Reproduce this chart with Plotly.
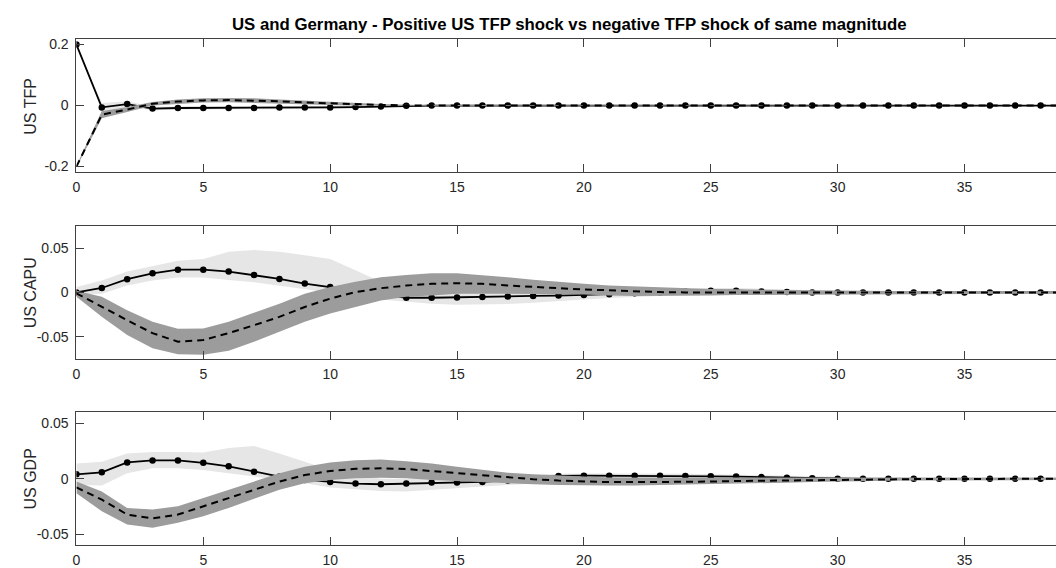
import plotly.graph_objects as go

# ---------------- data ----------------
horizon = [0, 1, 2, 3, 4, 5, 6, 7, 8, 9, 10, 11, 12, 13, 14, 15, 16, 17, 18, 19, 20,
           21, 22, 23, 24, 25, 26, 27, 28, 29, 30, 31, 32, 33, 34, 35, 36, 37, 38, 39, 40]
x_tick_vals = [0, 5, 10, 15, 20, 25, 30, 35]

panel_titles = ["US TFP", "US CAPU", "US GDP"]
chart_title = "US and Germany - Positive US TFP shock vs negative TFP shock of same magnitude"

# US TFP
tfp_pos = [0.200, -0.006, 0.005, -0.010, -0.008, -0.008, -0.008, -0.008, -0.006, -0.006, -0.006,
           -0.005, -0.003, -0.001, 0.0, 0.0, 0.0, 0.0, 0.0, 0.0, 0.0,
           0.0, 0.0, 0.0, 0.0, 0.0, 0.0, 0.0, 0.0, 0.0, 0.0,
           0.0, 0.0, 0.0, 0.0, 0.0, 0.0, 0.0, 0.0, 0.0, 0.0]
tfp_pos_hi = [0.203, 0.008, 0.014, -0.004, -0.003, -0.003, -0.003, -0.003, -0.001, -0.001, -0.001,
              0.000, 0.001, 0.002, 0.002, 0.0015, 0.0015, 0.0012, 0.001, 0.001, 0.001,
              0.001, 0.001, 0.001, 0.001, 0.001, 0.001, 0.001, 0.001, 0.001, 0.001,
              0.001, 0.001, 0.001, 0.001, 0.001, 0.001, 0.001, 0.001, 0.001, 0.001]
tfp_pos_lo = [0.197, -0.018, -0.004, -0.016, -0.013, -0.013, -0.013, -0.013, -0.011, -0.011, -0.011,
              -0.010, -0.007, -0.004, -0.002, -0.0015, -0.0015, -0.0012, -0.001, -0.001, -0.001,
              -0.001, -0.001, -0.001, -0.001, -0.001, -0.001, -0.001, -0.001, -0.001, -0.001,
              -0.001, -0.001, -0.001, -0.001, -0.001, -0.001, -0.001, -0.001, -0.001, -0.001]
tfp_neg = [-0.200, -0.030, -0.013, 0.006, 0.013, 0.017, 0.018, 0.017, 0.014, 0.010, 0.007,
           0.004, 0.002, 0.0005, 0.0, 0.0, 0.0, 0.0, 0.0, 0.0, 0.0,
           0.0, 0.0, 0.0, 0.0, 0.0, 0.0, 0.0, 0.0, 0.0, 0.0,
           0.0, 0.0, 0.0, 0.0, 0.0, 0.0, 0.0, 0.0, 0.0, 0.0]
tfp_neg_hi = [-0.197, -0.018, -0.005, 0.012, 0.020, 0.024, 0.025, 0.024, 0.020, 0.016, 0.012,
              0.008, 0.005, 0.003, 0.002, 0.0015, 0.0015, 0.0012, 0.001, 0.001, 0.001,
              0.001, 0.001, 0.001, 0.001, 0.001, 0.001, 0.001, 0.001, 0.001, 0.001,
              0.001, 0.001, 0.001, 0.001, 0.001, 0.001, 0.001, 0.001, 0.001, 0.001]
tfp_neg_lo = [-0.203, -0.042, -0.021, 0.000, 0.006, 0.010, 0.011, 0.010, 0.008, 0.004, 0.002,
              0.000, -0.001, -0.002, -0.002, -0.0015, -0.0015, -0.0012, -0.001, -0.001, -0.001,
              -0.001, -0.001, -0.001, -0.001, -0.001, -0.001, -0.001, -0.001, -0.001, -0.001,
              -0.001, -0.001, -0.001, -0.001, -0.001, -0.001, -0.001, -0.001, -0.001, -0.001]

# US CAPU
capu_pos = [0.000, 0.005, 0.015, 0.0216, 0.0257, 0.0257, 0.0235, 0.0198, 0.0153, 0.010, 0.006,
            0.002, -0.002, -0.006, -0.006, -0.0057, -0.0052, -0.0045, -0.004, -0.0035, -0.003,
            -0.002, -0.001, 0.000, 0.001, 0.002, 0.002, 0.001, 0.0005, 0.0, 0.0,
            0.0, 0.0, 0.0, 0.0, 0.0, 0.0, 0.0, 0.0, 0.0, 0.0]
capu_pos_hi = [0.006, 0.0134, 0.0235, 0.030, 0.0358, 0.0377, 0.0459, 0.048, 0.0459, 0.042, 0.0377,
               0.025, 0.012, 0.006, 0.004, 0.003, 0.003, 0.003, 0.003, 0.002, 0.002,
               0.002, 0.002, 0.003, 0.004, 0.005, 0.005, 0.004, 0.003, 0.002, 0.0015,
               0.0015, 0.0015, 0.0015, 0.0015, 0.0015, 0.0015, 0.0015, 0.0015, 0.0015, 0.0015]
capu_pos_lo = [-0.003, -0.0015, 0.0078, 0.0134, 0.017, 0.017, 0.014, 0.0116, 0.0078, 0.0034, 0.000,
               -0.004, -0.008, -0.010, -0.0127, -0.0138, -0.0138, -0.013, -0.0116, -0.010, -0.008,
               -0.0063, -0.005, -0.004, -0.003, -0.002, -0.002, -0.002, -0.0015, -0.001, -0.001,
               -0.001, -0.001, -0.001, -0.001, -0.001, -0.001, -0.001, -0.001, -0.001, -0.001]
capu_neg = [-0.001, -0.0164, -0.0313, -0.046, -0.0556, -0.0537, -0.046, -0.037, -0.0276, -0.0164, -0.007,
            0.0004, 0.0048, 0.0078, 0.0097, 0.0104, 0.0097, 0.0078, 0.006, 0.0048, 0.0034,
            0.0022, 0.0015, 0.0004, 0.000, -0.0003, -0.0003, -0.0002, -0.0001, 0.0, 0.0,
            0.0, 0.0, 0.0, 0.0, 0.0, 0.0, 0.0, 0.0, 0.0, 0.0]
capu_neg_hi = [0.002, -0.005, -0.020, -0.033, -0.041, -0.0406, -0.033, -0.0227, -0.0127, -0.0015, 0.006,
               0.012, 0.0172, 0.0198, 0.0216, 0.0216, 0.0198, 0.0172, 0.0142, 0.0116, 0.0097,
               0.0078, 0.0067, 0.006, 0.0048, 0.004, 0.0035, 0.003, 0.0028, 0.0025, 0.002,
               0.0018, 0.0017, 0.0016, 0.0015, 0.0015, 0.0014, 0.0014, 0.0013, 0.0013, 0.0012]
capu_neg_lo = [-0.005, -0.0276, -0.048, -0.063, -0.0697, -0.0705, -0.066, -0.0556, -0.0444, -0.033, -0.0239,
               -0.0164, -0.009, -0.005, -0.0034, -0.0015, -0.0015, -0.0015, -0.0015, -0.002, -0.0022,
               -0.0034, -0.004, -0.004, -0.0037, -0.0035, -0.003, -0.0028, -0.0025, -0.0022, -0.002,
               -0.0018, -0.0017, -0.0016, -0.0015, -0.0015, -0.0014, -0.0014, -0.0013, -0.0013, -0.0012]

# US GDP
gdp_pos = [0.004, 0.0058, 0.0147, 0.0165, 0.0165, 0.0144, 0.0112, 0.0064, 0.002, -0.001, -0.0028,
           -0.0043, -0.0049, -0.0043, -0.0034, -0.0034, -0.0028, -0.0015, 0.0005, 0.0025, 0.0028,
           0.0028, 0.0028, 0.0028, 0.0025, 0.0022, 0.002, 0.0015, 0.001, 0.0005, 0.0,
           0.0, 0.0, 0.0, 0.0, 0.0, 0.0, 0.0, 0.0, 0.0, 0.0]
gdp_pos_hi = [0.0138, 0.0153, 0.0227, 0.0242, 0.0242, 0.0236, 0.0278, 0.0296, 0.0227, 0.0153, 0.008,
              0.004, 0.000, 0.000, 0.001, 0.001, 0.001, 0.002, 0.003, 0.0045, 0.0048,
              0.0048, 0.0048, 0.0048, 0.0045, 0.004, 0.0035, 0.003, 0.0025, 0.002, 0.0015,
              0.0015, 0.0015, 0.0015, 0.0015, 0.0015, 0.0015, 0.0015, 0.0015, 0.0015, 0.0015]
gdp_pos_lo = [-0.0055, -0.006, 0.0049, 0.0094, 0.0094, 0.008, 0.005, 0.002, -0.001, -0.004, -0.0078,
              -0.0094, -0.011, -0.0114, -0.0099, -0.0084, -0.007, -0.0055, -0.004, -0.003, -0.002,
              -0.0015, -0.001, -0.001, -0.001, -0.001, -0.001, -0.001, -0.001, -0.001, -0.001,
              -0.001, -0.001, -0.001, -0.001, -0.001, -0.001, -0.001, -0.001, -0.001, -0.001]
gdp_neg = [-0.0078, -0.0188, -0.0322, -0.0357, -0.0322, -0.0248, -0.018, -0.0099, -0.0025, 0.0034, 0.007,
           0.009, 0.0094, 0.0088, 0.007, 0.0046, 0.0028, 0.001, -0.0004, -0.0016, -0.0025,
           -0.003, -0.003, -0.003, -0.0028, -0.0025, -0.002, -0.0017, -0.0014, -0.001, -0.0008,
           -0.0006, -0.0004, -0.0003, -0.0002, 0.0, 0.0, 0.0, 0.0, 0.0, 0.0]
gdp_neg_hi = [-0.0025, -0.0114, -0.0262, -0.0277, -0.0248, -0.0173, -0.0099, -0.0025, 0.0049, 0.0109, 0.0147,
              0.0168, 0.0174, 0.0159, 0.0138, 0.0109, 0.0079, 0.0055, 0.004, 0.0028, 0.002,
              0.0012, 0.001, 0.001, 0.001, 0.001, 0.0012, 0.0012, 0.001, 0.001, 0.0008,
              0.0008, 0.0008, 0.0008, 0.0008, 0.0008, 0.0008, 0.0008, 0.0008, 0.0008, 0.0008]
gdp_neg_lo = [-0.013, -0.0292, -0.0411, -0.044, -0.0396, -0.0337, -0.0262, -0.0179, -0.0099, -0.004, -0.001,
              0.0005, 0.001, 0.0005, -0.001, -0.0025, -0.0031, -0.004, -0.0049, -0.0055, -0.006,
              -0.006, -0.006, -0.006, -0.0055, -0.005, -0.0045, -0.004, -0.0035, -0.003, -0.0025,
              -0.002, -0.0018, -0.0015, -0.0012, -0.001, -0.001, -0.001, -0.001, -0.001, -0.001]

y_tick_vals = [[-0.2, 0, 0.2], [-0.05, 0, 0.05], [-0.05, 0, 0.05]]
y_tick_text = [["-0.2", "0", "0.2"], ["-0.05", "0", "0.05"], ["-0.05", "0", "0.05"]]

# ---------------- layout constants ----------------
W, H = 1056, 568
FONT = "Liberation Sans, Arial, Helvetica, sans-serif"
AX = "#404040"
TXT = "#262626"
LIGHT = "#e6e6e6"
DARK = "#9c9c9c"

x_dom = [72.7 / W, 1.0]
panels_px = [(36.7, 170.7), (225.0, 359.0), (413.0, 546.7)]  # top, bottom in px
y_ranges = [[-0.2185, 0.217], [-0.075, 0.075], [-0.0595, 0.0598]]
x_range = [0, (W - 72.7) / 25.47]

panels = [
    (tfp_pos, tfp_pos_hi, tfp_pos_lo, tfp_neg, tfp_neg_hi, tfp_neg_lo),
    (capu_pos, capu_pos_hi, capu_pos_lo, capu_neg, capu_neg_hi, capu_neg_lo),
    (gdp_pos, gdp_pos_hi, gdp_pos_lo, gdp_neg, gdp_neg_hi, gdp_neg_lo),
]

fig = go.Figure()
for i, (pos, pos_hi, pos_lo, neg, neg_hi, neg_lo) in enumerate(panels):
    xa = "x" if i == 0 else f"x{i + 1}"
    ya = "y" if i == 0 else f"y{i + 1}"
    common = dict(xaxis=xa, yaxis=ya, hoverinfo="skip", showlegend=False)
    band_x = horizon + horizon[::-1]
    fig.add_trace(go.Scatter(x=band_x, y=pos_hi + pos_lo[::-1], fill="toself",
                             fillcolor=LIGHT, mode="lines", line=dict(width=0, color=LIGHT), **common))
    fig.add_trace(go.Scatter(x=horizon, y=pos, mode="lines+markers",
                             line=dict(color="black", width=1.8),
                             marker=dict(color="black", size=6.5, symbol="circle"), **common))
    fig.add_trace(go.Scatter(x=band_x, y=neg_hi + neg_lo[::-1], fill="toself",
                             fillcolor=DARK, mode="lines", line=dict(width=0, color=DARK), **common))
    fig.add_trace(go.Scatter(x=horizon, y=neg, mode="lines",
                             line=dict(color="black", width=2, dash="7px,5px"), **common))

layout = dict(
    width=W, height=H, autosize=False,
    margin=dict(l=0, r=0, t=0, b=0),
    paper_bgcolor="white", plot_bgcolor="white",
    font=dict(family=FONT, color=TXT, size=14),
    annotations=[],
)
for i in range(3):
    top, bot = panels_px[i]
    xk = "xaxis" if i == 0 else f"xaxis{i + 1}"
    yk = "yaxis" if i == 0 else f"yaxis{i + 1}"
    ya = "y" if i == 0 else f"y{i + 1}"
    xa = "x" if i == 0 else f"x{i + 1}"
    layout[xk] = dict(domain=x_dom, range=x_range, anchor=ya,
                      tickmode="array", tickvals=x_tick_vals,
                      ticks="inside", ticklen=8, tickwidth=1, tickcolor=AX,
                      showline=True, linecolor=AX, linewidth=1, mirror="ticks",
                      showgrid=False, zeroline=False, ticklabelstandoff=2,
                      tickfont=dict(family=FONT, size=14, color=TXT))
    layout[yk] = dict(domain=[1 - bot / H, 1 - top / H], range=y_ranges[i], anchor=xa,
                      tickmode="array", tickvals=y_tick_vals[i], ticktext=y_tick_text[i],
                      ticks="inside", ticklen=8, tickwidth=1, tickcolor=AX,
                      showline=True, linecolor=AX, linewidth=1,
                      showgrid=False, zeroline=False, ticklabelstandoff=4,
                      tickfont=dict(family=FONT, size=14, color=TXT))
    layout["annotations"].append(dict(
        text=panel_titles[i], xref="paper", yref="paper",
        x=27 / W, y=1 - (top + bot) / 2 / H, xanchor="center", yanchor="middle",
        textangle=-90, showarrow=False, font=dict(family=FONT, size=16, color=TXT)))

layout["annotations"].append(dict(
    text="<b>" + chart_title + "</b>", xref="paper", yref="paper",
    x=568 / W, y=1 - 22 / H, xanchor="center", yanchor="middle",
    showarrow=False, font=dict(family=FONT, size=16.8, color="black")))

fig.update_layout(**layout)
fig.write_html("out.html")
